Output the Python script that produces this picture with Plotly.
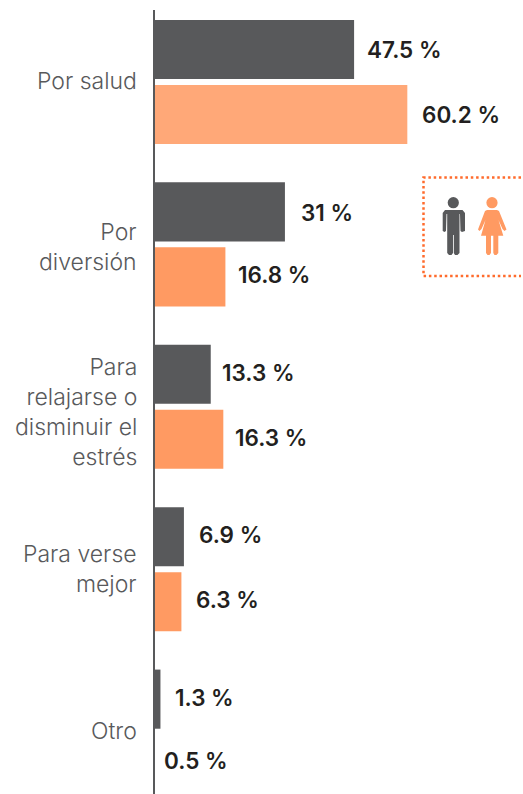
import plotly.graph_objects as go

categories = ["Por salud", "Por<br>diversión", "Para<br>relajarse o<br>disminuir el<br>estrés", "Para verse<br>mejor", "Otro"]
men = [47.5, 31, 13.3, 6.9, 1.3]
women = [60.2, 16.8, 16.3, 6.3, 0.5]
men_color = "#58595B"
women_colors = ["#FFA878", "#FF9A62", "#FF9A62", "#FF9A62", "rgba(0,0,0,0)"]
label_shift_men = [11, 14, 9, 13, 13]
label_shift_women = [13, 11, 10, 13, 5]
label_drop_men = [0, 0, -2, -3, -2]
label_drop_women = [1, -2, -1, -2, -3]
category_drop = [-1, 3, 5, 0, -1]
W, H, L, T = 523, 794, 155, 10

def px(x): return (x - L) / (W - L)
def py(y): return 1 - (y - T) / (H - T)
def path(points):
    return "M" + "L".join(f"{px(a):.5f},{py(b):.5f}" for a, b in points) + "Z"
def circle(cx, cy, r, col):
    return dict(type="circle", xref="paper", yref="paper", x0=px(cx-r), x1=px(cx+r), y0=py(cy+r), y1=py(cy-r),
                fillcolor=col, line_width=0)
def poly(points, col):
    return dict(type="path", xref="paper", yref="paper", path=path(points), fillcolor=col, line_width=0)

fig = go.Figure()
fig.add_bar(y=categories, x=men, orientation="h", marker_color=men_color, marker_line_width=0, name="Hombres")
fig.add_bar(y=categories, x=women, orientation="h", marker_color=women_colors, marker_line_width=0, name="Mujeres")

ann = []
for i, c in enumerate(categories):
    ann.append(dict(xref="paper", x=0, y=c, text=c, showarrow=False, xanchor="right", yanchor="middle", align="right",
                    xshift=-16, yshift=-category_drop[i],
                    font=dict(family="Inter", size=23, color="#58595B", weight=300)))
    for vals, shifts, drops, off in ((men, label_shift_men, label_drop_men, 32), (women, label_shift_women, label_drop_women, -32)):
        ann.append(dict(x=vals[i], y=c, text=f"{vals[i]} %", showarrow=False, xanchor="left", yanchor="middle",
                        xshift=shifts[i], yshift=off - drops[i],
                        font=dict(family="Inter", size=22.5, color="#231F20", weight=600)))

O = "#FF9A62"; D = men_color
shapes = [
    dict(type="path", xref="paper", yref="paper",
         path=f"M{px(521):.5f},{py(177.5):.5f}L{px(423.5):.5f},{py(177.5):.5f}L{px(423.5):.5f},{py(276):.5f}L{px(521):.5f},{py(276):.5f}",
         line=dict(color="#FF6B2C", width=2.5, dash="2.5px,2.8px")),
    circle(453.3, 202.7, 5.6, D),
    poly([(445, 210), (462.5, 210), (465, 213), (465, 231), (462, 232), (460.5, 231), (460, 214), (459.5, 214), (459.5, 253),
          (457.5, 255), (455, 255), (453.8, 253), (453.8, 235), (453, 235), (453, 253), (451.5, 255), (449, 255), (447.2, 253),
          (447.2, 214), (446.5, 214), (446, 231), (444.5, 232), (442.7, 231), (442.7, 213)], D),
    circle(492, 202.7, 5.6, O),
    poly([(487, 210), (497, 210), (499, 211), (506.5, 229.5), (504.5, 231), (502.5, 229), (498.5, 220), (503.3, 235.7),
          (498.3, 235.7), (498.3, 253), (496.5, 255), (494.5, 255), (493.3, 253), (493.3, 235.7), (491, 235.7), (491, 253),
          (489.5, 255), (487.5, 255), (486, 253), (486, 235.7), (481, 235.7), (485.5, 220), (481.5, 229), (479.5, 231),
          (478, 229.5), (485, 211)], O),
]

fig.update_layout(
    width=W, height=H, autosize=False, margin=dict(l=L, r=0, t=T, b=0, pad=0),
    paper_bgcolor="white", plot_bgcolor="white", showlegend=False,
    barmode="group", bargap=0.2, bargroupgap=0.09,
    annotations=ann, shapes=shapes,
    xaxis=dict(range=[0, 87.8], visible=False, fixedrange=True),
    yaxis=dict(type="category", categoryorder="array", categoryarray=categories, range=[4.384, -0.443],
               showgrid=False, zeroline=False, showline=True, linecolor="#58595B", linewidth=2, ticks="",
               showticklabels=False),
)
fig.write_html("out.html", config=dict(displayModeBar=False),
               post_script="document.body.style.margin='0';document.documentElement.style.overflow='hidden';")
